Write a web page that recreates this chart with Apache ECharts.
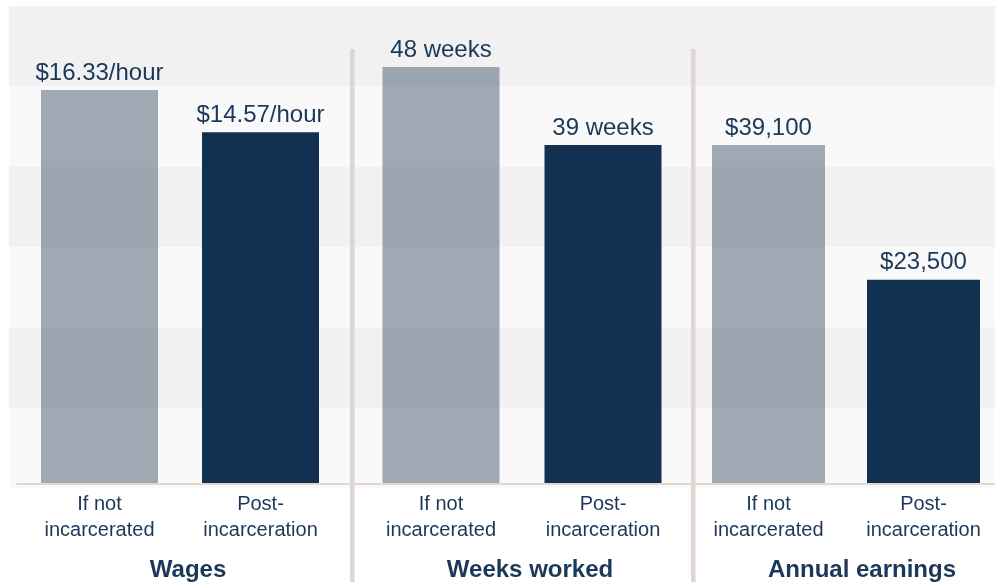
<!DOCTYPE html>
<html>
<head>
<meta charset="utf-8">
<script src="https://cdn.jsdelivr.net/npm/echarts@6/dist/echarts.min.js"></script>
<style>
  html, body { margin: 0; padding: 0; background: #ffffff; }
  #chart { width: 995px; height: 582px; }
</style>
</head>
<body>
<div id="chart"></div>
<script>
// ---- data ----
var categories = ['If not\nincarcerated', 'Post-\nincarceration'];
var panelTitles = ['Wages', 'Weeks worked', 'Annual earnings'];
var wages = [16.33, 14.57];
var weeksWorked = [48, 39];
var annualEarnings = [39100, 23500];

// ---- styling ----
var FONT = "'Liberation Sans', Arial, Helvetica, sans-serif";
var TEXT = '#1b3859';
var LIGHT_BAR = 'rgba(67,89,111,0.5)';
var DARK_BAR = '#12304f';
var barColors = [LIGHT_BAR, DARK_BAR];
var LINE = '#e2d8d2';

function fmtWage(v) { return '$' + v.toFixed(2) + '/hour'; }
function fmtWeeks(v) { return v + ' weeks'; }
function fmtMoney(v) { return '$' + v.toLocaleString('en-US'); }

var panels = [
  { values: wages, fmt: fmtWage, max: 19.82, left: 19, width: 322, barWidth: 117, titleX: 183 },
  { values: weeksWorked, fmt: fmtWeeks, max: 55.04, left: 360, width: 324, barWidth: 117, titleX: 525 },
  { values: annualEarnings, fmt: fmtMoney, max: 55180, left: 691, width: 310, barWidth: 113, titleX: 857 }
];

var grids = [
  // background bands
  { left: 9, top: 6, width: 986, height: 482, outerBoundsMode: 'none' },
  // baseline
  { left: 17, top: 300, width: 978, height: 184, outerBoundsMode: 'none' }
];
var xAxes = [
  { gridIndex: 0, type: 'value', show: false, min: 0, max: 1 },
  { gridIndex: 1, type: 'value', min: 0, max: 1,
    axisLine: { show: true, lineStyle: { color: LINE, width: 2 } },
    axisTick: { show: false }, axisLabel: { show: false }, splitLine: { show: false } }
];
var yAxes = [
  { gridIndex: 0, type: 'value', min: 0, max: 6, interval: 1,
    axisLine: { show: false }, axisTick: { show: false }, axisLabel: { show: false },
    splitLine: { show: false },
    splitArea: { show: true, areaStyle: { color: ['#f9f9f9', '#f0f1f0'] } } },
  { gridIndex: 1, type: 'value', show: false, min: 0, max: 1 }
];
var series = [];
var titles = [];

panels.forEach(function (p, i) {
  var gi = i + 2;
  grids.push({ left: p.left, top: 6, width: p.width, height: 477, outerBoundsMode: 'none' });
  xAxes.push({
    gridIndex: gi, type: 'category', data: categories,
    axisLine: { show: false }, axisTick: { show: false },
    axisLabel: { color: TEXT, fontFamily: FONT, fontSize: 20, lineHeight: 26, margin: 8 }
  });
  yAxes.push({ gridIndex: gi, type: 'value', min: 0, max: p.max, show: false });
  series.push({
    type: 'bar', xAxisIndex: gi, yAxisIndex: gi, z: 3,
    barWidth: p.barWidth,
    data: p.values.map(function (v, k) { return { value: v, itemStyle: { color: barColors[k] } }; }),
    label: {
      show: true, position: 'top', distance: 5,
      color: TEXT, fontFamily: FONT, fontSize: 24,
      formatter: function (prm) { return p.fmt(prm.value); }
    }
  });
  titles.push({
    text: panelTitles[i], left: p.titleX, top: 553, textAlign: 'center',
    textStyle: { color: TEXT, fontFamily: FONT, fontSize: 24, fontWeight: 'bold' }
  });
});

var chart = echarts.init(document.getElementById('chart'), null, { renderer: 'canvas' });
chart.setOption({
  animation: false,
  backgroundColor: '#ffffff',
  title: titles,
  grid: grids,
  xAxis: xAxes,
  yAxis: yAxes,
  series: series,
  graphic: [
    { type: 'rect', z: 100, shape: { x: 350, y: 49, width: 4.5, height: 540 }, style: { fill: '#e0d5cf' } },
    { type: 'rect', z: 100, shape: { x: 691, y: 49, width: 4.5, height: 540 }, style: { fill: '#e0d5cf' } }
  ]
});
</script>
</body>
</html>
